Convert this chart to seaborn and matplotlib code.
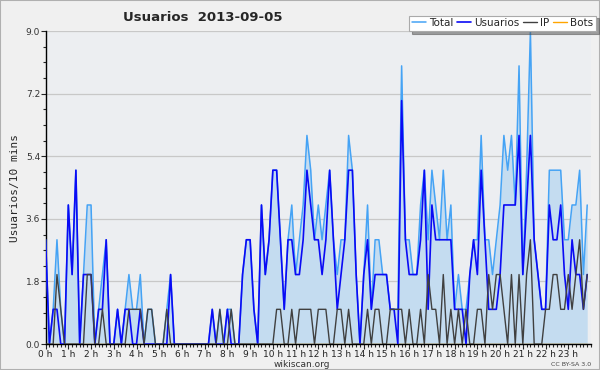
import numpy as np
import pandas as pd
import seaborn as sns
import matplotlib.pyplot as plt
from matplotlib.patches import Rectangle
from matplotlib.ticker import MultipleLocator

# edits per 10 minutes, 144 slots (00:00 .. 23:50)
total = [3, 0, 1, 3, 1, 0, 4, 2, 5, 0, 2, 4, 4, 0, 1, 2, 3, 0, 0, 1, 0, 1, 2, 1,
         1, 2, 0, 1, 1, 0, 0, 0, 1, 2, 0, 0, 0, 0, 0, 0, 0, 0, 0, 0, 1, 0, 1, 0,
         1, 1, 0, 0, 2, 3, 3, 1, 0, 4, 2, 3, 5, 5, 3, 1, 3, 4, 2, 3, 4, 6, 5, 3,
         4, 3, 4, 5, 3, 2, 3, 3, 6, 5, 2, 0, 2, 4, 1, 3, 3, 2, 2, 1, 1, 1, 8, 3,
         3, 2, 2, 4, 5, 3, 5, 4, 3, 5, 3, 4, 1, 2, 1, 1, 2, 3, 3, 6, 3, 3, 2, 3,
         4, 6, 5, 6, 4, 8, 2, 5, 9, 3, 2, 1, 1, 5, 5, 5, 5, 3, 3, 4, 4, 5, 2, 4]
usuarios = [3, 0, 1, 1, 0, 0, 4, 2, 5, 0, 2, 2, 2, 0, 1, 1, 3, 0, 0, 1, 0, 1, 1, 0,
            0, 1, 0, 0, 0, 0, 0, 0, 0, 2, 0, 0, 0, 0, 0, 0, 0, 0, 0, 0, 1, 0, 0, 0,
            1, 0, 0, 0, 2, 3, 3, 1, 0, 4, 2, 3, 5, 5, 3, 1, 3, 3, 2, 2, 3, 5, 4, 3,
            3, 2, 3, 5, 3, 1, 2, 3, 5, 5, 2, 0, 2, 3, 1, 2, 2, 2, 2, 1, 1, 0, 7, 3,
            2, 2, 2, 3, 5, 1, 4, 3, 3, 3, 3, 3, 1, 1, 1, 0, 2, 3, 2, 5, 3, 1, 1, 1,
            2, 4, 4, 4, 4, 6, 2, 4, 6, 3, 2, 1, 1, 4, 3, 3, 4, 2, 1, 3, 2, 2, 1, 2]
ip = [0, 0, 0, 2, 1, 0, 0, 0, 0, 0, 0, 2, 2, 0, 0, 1, 0, 0, 0, 0, 0, 0, 1, 1,
      1, 1, 0, 1, 1, 0, 0, 0, 1, 0, 0, 0, 0, 0, 0, 0, 0, 0, 0, 0, 0, 0, 1, 0,
      0, 1, 0, 0, 0, 0, 0, 0, 0, 0, 0, 0, 0, 1, 1, 0, 0, 1, 0, 1, 1, 1, 1, 0,
      1, 1, 1, 0, 0, 1, 1, 0, 1, 0, 0, 0, 0, 1, 0, 1, 1, 0, 0, 1, 1, 1, 1, 0,
      1, 0, 0, 1, 0, 2, 1, 1, 0, 2, 0, 1, 0, 1, 0, 1, 0, 0, 1, 1, 0, 2, 1, 2,
      2, 1, 0, 2, 0, 2, 0, 2, 3, 0, 0, 0, 1, 1, 2, 2, 1, 1, 2, 1, 2, 3, 1, 2]
bots = [0] * 144
hour_labels = [f"{h} h" for h in range(24)]

hours = np.arange(len(total)) / 6.0
df = pd.DataFrame({"hora": hours, "Total": total, "Usuarios": usuarios,
                   "IP": ip, "Bots": bots})

sns.set_style("white")
plt.rcParams["font.family"] = ["DejaVu Sans"]

fig = plt.figure(figsize=(6, 3.7), dpi=100, facecolor="#f0f0f0")
ax = fig.add_axes([0.076, 0.070, 0.909, 0.846])
ax.set_facecolor("#eceef1")

# filled area under the total
ax.fill_between(df["hora"], df["Total"], color="#c4dcf0", zorder=1, lw=0)
sns.lineplot(data=df, x="hora", y="Bots", ax=ax, color="#ffa500", lw=1, label="Bots", zorder=2)
sns.lineplot(data=df, x="hora", y="Total", ax=ax, color="#45a3f5", lw=1.1, label="Total", zorder=3)
sns.lineplot(data=df, x="hora", y="Usuarios", ax=ax, color="#0a0af5", lw=1.2, label="Usuarios", zorder=4)
sns.lineplot(data=df, x="hora", y="IP", ax=ax, color="#404040", lw=1.0, label="IP", zorder=5)

ax.set_xlim(0, 24)
ax.set_ylim(0, 9)
ax.set_yticks(np.arange(0, 9.01, 1.8))
ax.set_yticklabels([f"{v:.1f}" for v in np.arange(0, 9.01, 1.8)], fontsize=6.5, color="#333")
ax.yaxis.set_minor_locator(MultipleLocator(0.45))
ax.set_xticks(range(24))
ax.set_xticklabels(hour_labels, fontsize=6.5, color="#222")
ax.xaxis.set_minor_locator(MultipleLocator(1 / 6))
ax.tick_params(axis="both", which="major", length=3.5, width=0.8, pad=0.5, direction="out")
ax.tick_params(axis="both", which="minor", length=2.5, width=0.8, direction="out")
ax.tick_params(bottom=True, left=True, which="both")
ax.grid(axis="y", color="#c8c8c8", lw=0.9)
ax.set_axisbelow(True)

for s in ["top", "right"]:
    ax.spines[s].set_visible(False)
for s in ["left", "bottom"]:
    ax.spines[s].set_color("black")
    ax.spines[s].set_linewidth(1)

ax.set_xlabel("wikiscan.org", fontsize=6.5, color="#333")
ax.xaxis.set_label_coords(0.47, -0.05)
ax.set_ylabel("Usuarios/10 mins", fontsize=8, family="DejaVu Sans Mono", labelpad=4)

fig.text(0.205, 0.953, "Usuarios  2013-09-05", fontsize=9.5, fontweight="bold", ha="left", va="center")
fig.text(0.985, 0.016, "CC BY-SA 3.0", fontsize=4.5, color="#444", ha="right", va="center")

ax.get_legend().remove()
h, l = ax.get_legend_handles_labels()
order = [l.index(n) for n in ["Total", "Usuarios", "IP", "Bots"]]
leg = fig.legend([h[k] for k in order], [l[k] for k in order], loc="upper right",
                 bbox_to_anchor=(0.993, 0.958), ncol=4, fontsize=7.5, frameon=True,
                 fancybox=False, shadow=True, edgecolor="#aaaaaa", framealpha=1,
                 handlelength=1.3, handletextpad=0.3, columnspacing=0.4,
                 borderpad=0.25, borderaxespad=0)
leg.get_frame().set_linewidth(0.8)

fig.patches.append(Rectangle((0, 0), 1, 1, transform=fig.transFigure, fill=False,
                             edgecolor="#b0b0b0", lw=1.5))

fig.savefig("out.png", dpi=100, facecolor=fig.get_facecolor())
